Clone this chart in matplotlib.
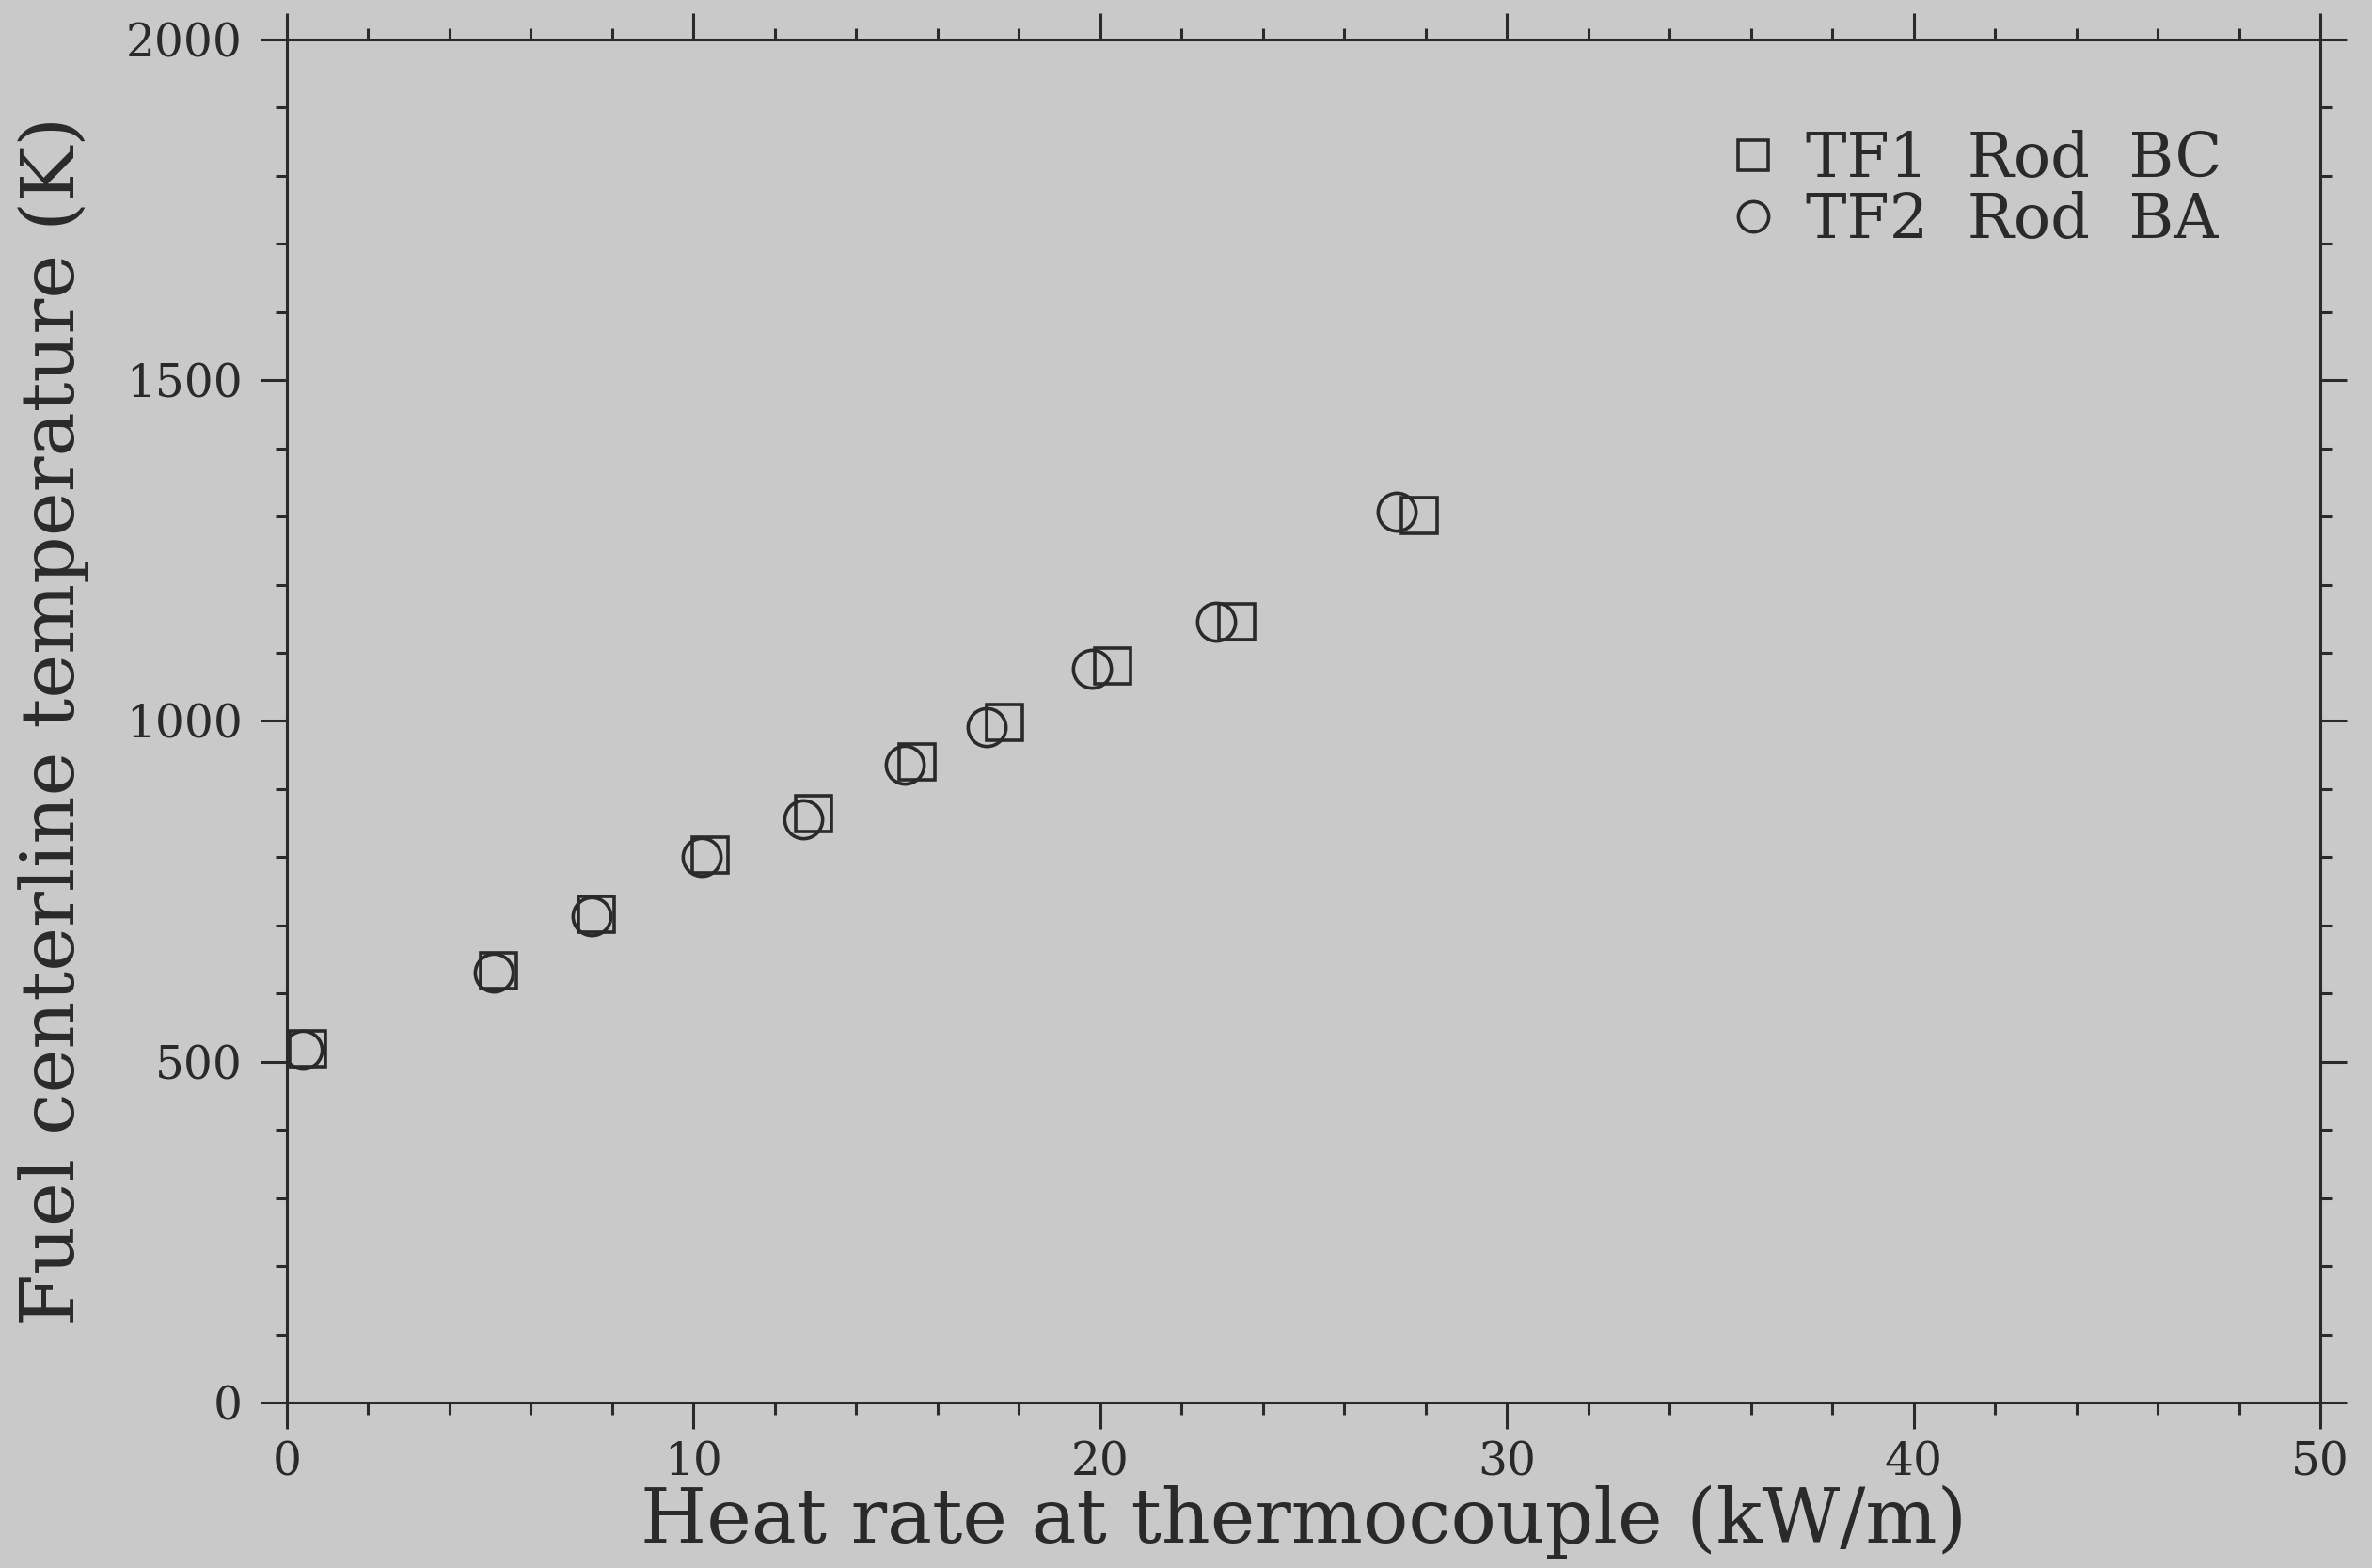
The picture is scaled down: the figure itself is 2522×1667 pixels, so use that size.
import matplotlib
matplotlib.use("Agg")
import matplotlib.pyplot as plt
from matplotlib.ticker import MultipleLocator

# Data
tf1_heat = [0.5, 5.2, 7.6, 10.4, 12.95, 15.5, 17.65, 20.3, 23.35, 27.85]
tf1_temp = [519, 633, 716, 803, 864, 940, 998, 1081, 1146, 1302]
tf2_heat = [0.4, 5.1, 7.5, 10.2, 12.7, 15.2, 17.2, 19.8, 22.85, 27.3]
tf2_temp = [517, 631, 714, 800, 856, 936, 991, 1077, 1145, 1307]

x_ticks = [0, 10, 20, 30, 40, 50]
y_ticks = [0, 500, 1000, 1500, 2000]
series_labels = ["TF1  Rod  BC", "TF2  Rod  BA"]

BG = "#c9c9c9"
INK = "#2a2a2a"

plt.rcParams["font.family"] = ["DejaVu Serif"]

fig = plt.figure(figsize=(25.22, 16.67), dpi=100, facecolor=BG)
ax = fig.add_axes([0.1209, 0.1056, 0.8573, 0.8692], facecolor=BG)

ax.plot(tf1_heat, tf1_temp, linestyle="none", marker="s", markersize=28,
        markerfacecolor="none", markeredgecolor=INK, markeredgewidth=2.6,
        label=series_labels[0])
ax.plot(tf2_heat, tf2_temp, linestyle="none", marker="o", markersize=29,
        markerfacecolor="none", markeredgecolor=INK, markeredgewidth=2.6,
        label=series_labels[1])

ax.set_xlim(0, 50)
ax.set_ylim(0, 2000)
ax.set_xticks(x_ticks)
ax.set_yticks(y_ticks)
ax.xaxis.set_minor_locator(MultipleLocator(2))
ax.yaxis.set_minor_locator(MultipleLocator(100))

for s in ax.spines.values():
    s.set_color(INK)
    s.set_linewidth(2.2)

ax.tick_params(which="both", direction="out", colors=INK, width=2.2,
               top=True, right=True, labeltop=False, labelright=False)
ax.tick_params(which="major", length=20)
ax.tick_params(which="minor", length=9)
ax.tick_params(axis="x", which="major", labelsize=35, pad=9, labelcolor=INK)
ax.tick_params(axis="y", which="major", labelsize=35, pad=14, labelcolor=INK)

ax.set_xlabel("Heat rate at thermocouple (kW/m)", fontsize=58, color=INK,
              labelpad=0)
ax.set_ylabel("Fuel centerline temperature (K)", fontsize=57, color=INK,
              labelpad=28)

leg = ax.legend(loc="upper left", bbox_to_anchor=(0.7, 0.952),
                frameon=False, fontsize=47, markerscale=0.8,
                handlelength=0.6, handletextpad=0.55, labelspacing=0.02,
                borderaxespad=0)
for t in leg.get_texts():
    t.set_color(INK)

fig.savefig("out.png", dpi=100, facecolor=BG)
